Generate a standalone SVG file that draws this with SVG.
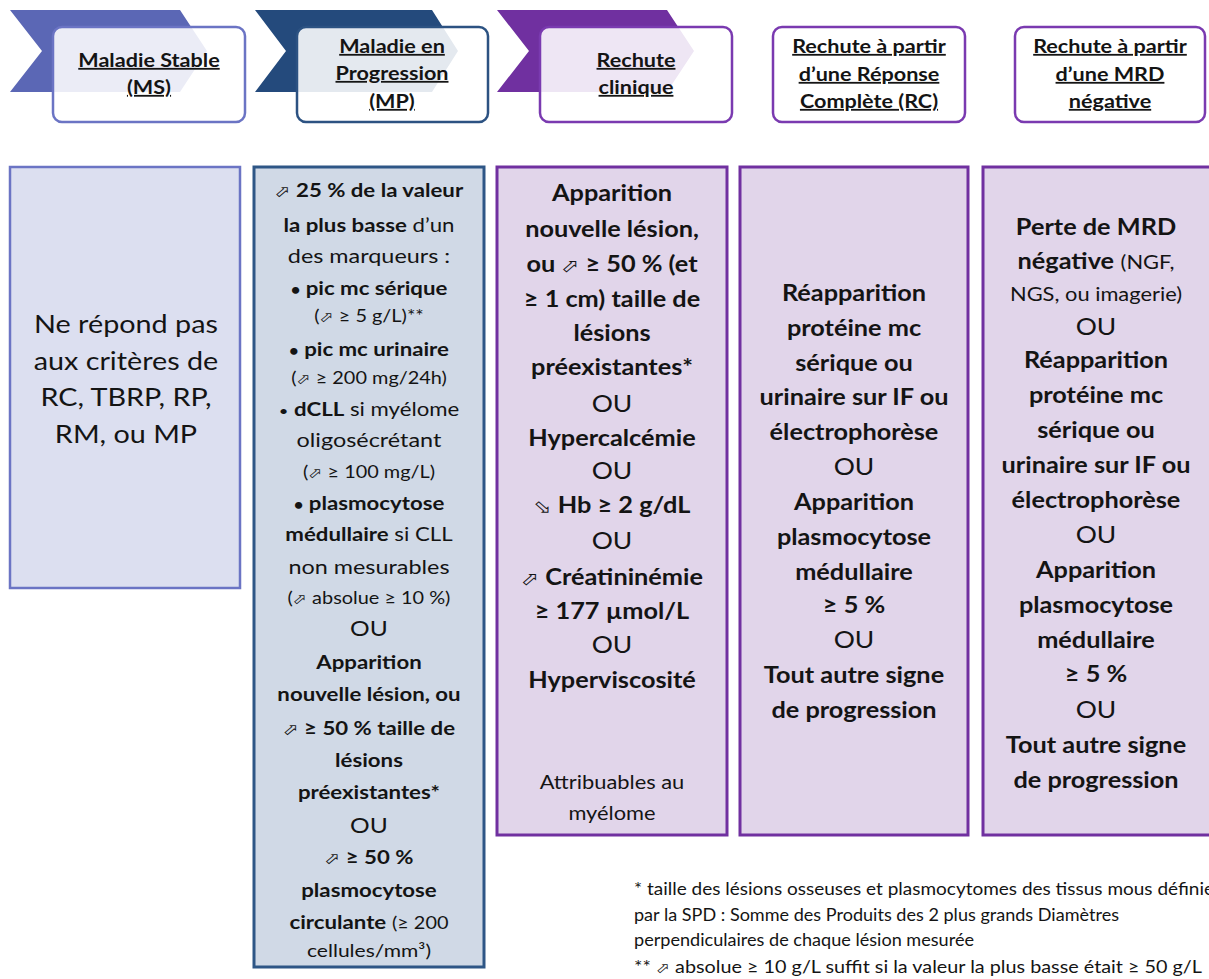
<svg xmlns="http://www.w3.org/2000/svg" width="1209" height="979" viewBox="0 0 1209 979">
<style>
text{font-family:Lato,"DejaVu Sans",sans-serif;fill:#141414;text-anchor:middle}
.h{font-weight:700;font-size:18px;text-decoration:underline}
.b{font-weight:700}
.c2{font-size:19px}
.c3{font-size:22px}
.r{font-size:20px}
.s{font-size:17px;font-weight:400}
.ou{font-size:23px;font-weight:400}
.ar{font-family:"DejaVu Sans",sans-serif;font-size:0.85em;font-weight:400}
.bu{font-size:0.75em}
.hb{fill:#fff;fill-opacity:0.88;stroke-width:2.5}
.fn{font-size:17px;text-anchor:start}
</style>
<rect width="1209" height="979" fill="#fff"/>

<g id="header-ms">
<polygon points="10,10 180,10 207,51 180,92 10,92 42,51" fill="#5b67b5"/>
<rect class="hb" x="53" y="27" width="192" height="95" rx="9" stroke="#6b74c4"/>
<g transform="matrix(1.2 0 0 1 -29.8 0)">
<text class="h" x="149" y="67">Maladie Stable</text>
<text class="h" x="149" y="94">(MS)</text>
</g>
</g>

<g id="header-mp">
<polygon points="255,10 432,10 458,51 432,92 255,92 286,51" fill="#244a7c"/>
<rect class="hb" x="297" y="27" width="191" height="95" rx="9" stroke="#2c5282"/>
<g transform="matrix(1.2 0 0 1 -78.4 0)">
<text class="h" x="392" y="53">Maladie en</text>
<text class="h" x="392" y="80">Progression</text>
<text class="h" x="392" y="108">(MP)</text>
</g>
</g>

<g id="header-rechute-clinique">
<polygon points="497,10 667,10 694,51 667,92 497,92 529,51" fill="#7030a0"/>
<rect class="hb" x="540" y="27" width="192" height="95" rx="9" stroke="#7a3ab0"/>
<g transform="matrix(1.2 0 0 1 -127.2 0)">
<text class="h" x="636" y="67">Rechute</text>
<text class="h" x="636" y="94">clinique</text>
</g>
</g>

<g id="header-rechute-rc">
<rect class="hb" x="773" y="27" width="192" height="95" rx="9" stroke="#7a3ab0"/>
<g transform="matrix(1.2 0 0 1 -173.8 0)">
<text class="h" x="869" y="53">Rechute à partir</text>
<text class="h" x="869" y="81">d’une Réponse</text>
<text class="h" x="869" y="108">Complète (RC)</text>
</g>
</g>

<g id="header-rechute-mrd">
<rect class="hb" x="1015" y="27" width="190" height="95" rx="9" stroke="#7a3ab0"/>
<g transform="matrix(1.2 0 0 1 -222 0)">
<text class="h" x="1110" y="53">Rechute à partir</text>
<text class="h" x="1110" y="81">d’une MRD</text>
<text class="h" x="1110" y="108">négative</text>
</g>
</g>

<g id="body-ms">
<rect x="10" y="167" width="230" height="421" fill="#dcdff0" stroke="#6b74c4" stroke-width="2.5"/>
<g font-size="25" transform="matrix(1.15 0 0 1 -18.9 0)">
<text x="126" y="333">Ne répond pas</text>
<text x="126" y="370">aux critères de</text>
<text x="126" y="406">RC, TBRP, RP,</text>
<text x="126" y="443">RM, ou MP</text>
</g>
</g>

<g id="body-mp">
<rect x="254" y="167" width="230" height="800" fill="#d0d9e6" stroke="#2e5686" stroke-width="3"/>
<g class="c2" transform="matrix(1.17 0 0 1 -62.73 0)">
<text class="b" x="369" y="197"><tspan class="ar">⬀</tspan> 25 % de la valeur</text>
<text x="369" y="232"><tspan class="b">la plus basse</tspan> d’un</text>
<text class="r" x="369" y="263">des marqueurs :</text>
<text class="b" x="369" y="295"><tspan class="bu">•</tspan> pic mc sérique</text>
<text class="s" x="369" y="322">(<tspan class="ar">⬀</tspan> ≥ 5 g/L)**</text>
<text class="b" x="369" y="356"><tspan class="bu">•</tspan> pic mc urinaire</text>
<text class="s" x="369" y="384">(<tspan class="ar">⬀</tspan> ≥ 200 mg/24h)</text>
<text x="369" y="416"><tspan class="bu">•</tspan>  <tspan class="b">dCLL</tspan> si myélome</text>
<text class="r" x="369" y="447">oligosécrétant</text>
<text class="s" x="369" y="478">(<tspan class="ar">⬀</tspan> ≥ 100 mg/L)</text>
<text class="b" x="369" y="510"><tspan class="bu">•</tspan> plasmocytose</text>
<text x="369" y="541"><tspan class="b">médullaire</tspan> si CLL</text>
<text class="r" x="369" y="574">non mesurables</text>
<text class="s" x="369" y="604">(<tspan class="ar">⬀</tspan> absolue ≥ 10 %)</text>
<text x="369" y="636" font-size="21">OU</text>
<text class="b" x="369" y="669">Apparition</text>
<text class="b" x="369" y="701">nouvelle lésion, ou</text>
<text class="b" x="369" y="735"><tspan class="ar">⬀</tspan> ≥ 50 % taille de</text>
<text class="b" x="369" y="767">lésions</text>
<text class="b" x="369" y="799">préexistantes*</text>
<text x="369" y="833" font-size="21">OU</text>
<text class="b" x="369" y="864"><tspan class="ar">⬀</tspan> ≥ 50 %</text>
<text class="b" x="369" y="897">plasmocytose</text>
<text x="369" y="929"><tspan class="b">circulante</tspan> <tspan font-size="17">(≥ 200</tspan></text>
<text x="369" y="957" font-size="18">cellules/mm³)</text>
</g>
</g>

<g id="body-rechute-clinique">
<rect x="497" y="167" width="230" height="668" fill="#e1d5ea" stroke="#7030a0" stroke-width="3"/>
<g class="c3" transform="matrix(1.15 0 0 1 -91.8 0)">
<text class="b" x="612" y="201">Apparition</text>
<text class="b" x="612" y="237">nouvelle lésion,</text>
<text class="b" x="612" y="272">ou <tspan class="ar">⬀</tspan> ≥ 50 % (et</text>
<text class="b" x="612" y="307">≥ 1 cm) taille de</text>
<text class="b" x="612" y="341">lésions</text>
<text class="b" x="612" y="375">préexistantes*</text>
<text class="ou" x="612" y="412">OU</text>
<text class="b" x="612" y="446">Hypercalcémie</text>
<text class="ou" x="612" y="479">OU</text>
<text class="b" x="612" y="513"><tspan class="ar">⬂</tspan> Hb ≥ 2 g/dL</text>
<text class="ou" x="612" y="549">OU</text>
<text class="b" x="612" y="585"><tspan class="ar">⬀</tspan> Créatininémie</text>
<text class="b" x="612" y="619">≥ 177 µmol/L</text>
<text class="ou" x="612" y="653">OU</text>
<text class="b" x="612" y="688">Hyperviscosité</text>
<text x="612" y="789" font-size="19">Attribuables au</text>
<text x="612" y="820" font-size="19">myélome</text>
</g>
</g>

<g id="body-rechute-rc">
<rect x="740" y="167" width="228" height="668" fill="#e1d5ea" stroke="#7030a0" stroke-width="3"/>
<g class="c3" transform="matrix(1.15 0 0 1 -128.1 0)">
<text class="b" x="854" y="301">Réapparition</text>
<text class="b" x="854" y="336">protéine mc</text>
<text class="b" x="854" y="371">sérique ou</text>
<text class="b" x="854" y="405">urinaire sur IF ou</text>
<text class="b" x="854" y="440">électrophorèse</text>
<text class="ou" x="854" y="475">OU</text>
<text class="b" x="854" y="510">Apparition</text>
<text class="b" x="854" y="545">plasmocytose</text>
<text class="b" x="854" y="580">médullaire</text>
<text class="b" x="854" y="613">≥ 5 %</text>
<text class="ou" x="854" y="648">OU</text>
<text class="b" x="854" y="683">Tout autre signe</text>
<text class="b" x="854" y="718">de progression</text>
</g>
</g>

<g id="body-rechute-mrd">
<rect x="983" y="167" width="230" height="668" fill="#e1d5ea" stroke="#7030a0" stroke-width="3"/>
<g class="c3" transform="matrix(1.15 0 0 1 -164.4 0)">
<text class="b" x="1096" y="235">Perte de MRD</text>
<text x="1096" y="269"><tspan class="b">négative</tspan> <tspan font-size="19">(NGF,</tspan></text>
<text x="1096" y="301" font-size="19">NGS, ou imagerie)</text>
<text class="ou" x="1096" y="335">OU</text>
<text class="b" x="1096" y="368">Réapparition</text>
<text class="b" x="1096" y="403">protéine mc</text>
<text class="b" x="1096" y="438">sérique ou</text>
<text class="b" x="1096" y="473">urinaire sur IF ou</text>
<text class="b" x="1096" y="508">électrophorèse</text>
<text class="ou" x="1096" y="543">OU</text>
<text class="b" x="1096" y="578">Apparition</text>
<text class="b" x="1096" y="613">plasmocytose</text>
<text class="b" x="1096" y="648">médullaire</text>
<text class="b" x="1096" y="682">≥ 5 %</text>
<text class="ou" x="1096" y="718">OU</text>
<text class="b" x="1096" y="753">Tout autre signe</text>
<text class="b" x="1096" y="788">de progression</text>
</g>
</g>

<g id="footnote">
<text class="fn" x="634" y="895" textLength="580" lengthAdjust="spacingAndGlyphs">* taille des lésions osseuses et plasmocytomes des tissus mous définie</text>
<text class="fn" x="634" y="921" textLength="485" lengthAdjust="spacingAndGlyphs">par la SPD : Somme des Produits des 2 plus grands Diamètres</text>
<text class="fn" x="634" y="946" textLength="340" lengthAdjust="spacingAndGlyphs">perpendiculaires de chaque lésion mesurée</text>
<text class="fn" x="634" y="973" textLength="568" lengthAdjust="spacingAndGlyphs">** <tspan class="ar">⬀</tspan> absolue ≥ 10 g/L suffit si la valeur la plus basse était ≥ 50 g/L</text>
</g>
</svg>
